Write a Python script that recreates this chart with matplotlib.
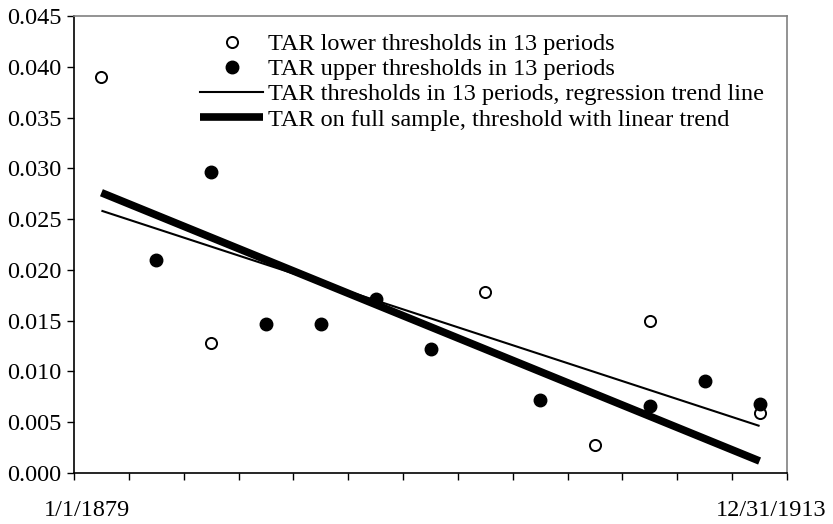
import numpy as np
import matplotlib
matplotlib.use("Agg")
import matplotlib.pyplot as plt
from matplotlib.lines import Line2D

plt.rcParams['font.family'] = ['Liberation Serif', 'DejaVu Serif']

periods = list(range(1, 14))
lower = [0.0390, np.nan, 0.0128, np.nan, np.nan, np.nan, np.nan, 0.0178, np.nan, 0.0028, 0.0150, np.nan, 0.0059]
upper = [np.nan, 0.0210, 0.0296, 0.0147, 0.0147, 0.0171, 0.0122, np.nan, 0.0072, np.nan, 0.0066, 0.0091, 0.0068]
trend_x = [1, 13]
trend_13 = [0.02583, 0.00463]
trend_full = [0.0276, 0.00118]
date_labels = ['1/1/1879', '12/31/1913']
yticks = [0.000, 0.005, 0.010, 0.015, 0.020, 0.025, 0.030, 0.035, 0.040, 0.045]

FS = 17.5
fig = plt.figure(figsize=(8.33, 5.24), dpi=100)
ax = fig.add_axes([74/833, 1-473/524, 713/833, 457/524])

x = np.arange(len(periods))
tx = [t - 1 for t in trend_x]
ax.plot(tx, trend_full, color='black', lw=5.5, solid_capstyle='butt', zorder=2)
ax.plot(tx, trend_13, color='black', lw=1.5, solid_capstyle='butt', zorder=3)
ax.plot(x, lower, 'o', ms=8, mfc='white', mec='black', mew=1.4, ls='none', zorder=4)
ax.plot(x, upper, 'o', ms=9, mfc='black', mec='black', ls='none', zorder=5)

ax.set_xlim(-0.5, len(periods) - 0.5)
ax.set_ylim(0, 0.045)
ax.set_yticks(yticks)
ax.set_yticklabels([f"{v:.3f}" for v in yticks], fontsize=FS)
ax.set_xticks(np.arange(-0.5, len(periods), 1.0))
ax.set_xticklabels([])
ax.tick_params(axis='both', direction='out', length=5, width=1, color='black', pad=4)

for s in ['top', 'right']:
    ax.spines[s].set_color('#808080')
    ax.spines[s].set_linewidth(1.2)
for s in ['left', 'bottom']:
    ax.spines[s].set_color('black')
    ax.spines[s].set_linewidth(1.2)

ax.text(0.018, -0.081, date_labels[0], transform=ax.transAxes, ha='center', va='center', fontsize=FS)
ax.text(0.9776, -0.081, date_labels[1], transform=ax.transAxes, ha='center', va='center', fontsize=FS)

handles = [
    Line2D([], [], marker='o', ls='none', ms=8, mfc='white', mec='black', mew=1.4),
    Line2D([], [], marker='o', ls='none', ms=9, mfc='black', mec='black'),
    Line2D([], [], color='black', lw=1.5),
    Line2D([], [], color='black', lw=5.5, solid_capstyle='butt'),
]
labels = ['TAR lower thresholds in 13 periods',
          'TAR upper thresholds in 13 periods',
          'TAR thresholds in 13 periods, regression trend line',
          'TAR on full sample, threshold with linear trend']
leg = ax.legend(handles, labels, loc='upper left',
                bbox_to_anchor=((200-74)/713, (473-33)/457),
                frameon=False, fontsize=FS, borderpad=0, borderaxespad=0,
                handlelength=2.6, handletextpad=0.2, labelspacing=0.13)

fig.savefig('out.png', dpi=100)
